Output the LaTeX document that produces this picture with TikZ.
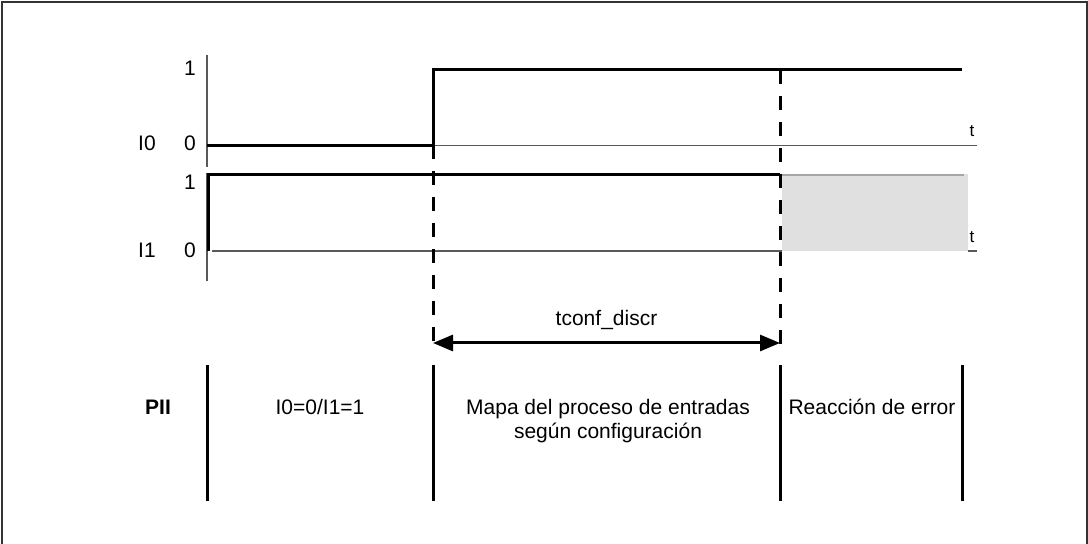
\documentclass[tikz,border=0pt]{standalone}
\usepackage{fontspec}
\setmainfont{Liberation Sans}
\usetikzlibrary{arrows.meta}

\begin{document}
\begin{tikzpicture}[x=0.5pt, y=-0.5pt]

  \fontsize{10.5}{12}\selectfont

  \newcommand\tZ{207};
  \newcommand\tA{433};
  \newcommand\tB{780};
  \newcommand\tE{962};

  \tikzset{
    axis/.style={black!65, line width=0.6pt},
    sig/.style={line width=1.5pt},
    mark line/.style={line width=1.5pt, dash pattern=on 7pt off 6pt},
    lbl/.style={inner sep=0pt},
    tlbl/.style={inner sep=0pt, font=\fontsize{8.5}{9}\selectfont},
    txt/.style={inner sep=0pt, font=\fontsize{10.5}{12}\selectfont}
  }

  \useasboundingbox (0,0) rectangle (1088,544);
  \draw[black!80, line width=1pt] (2,548) -- (2,2) -- (1087,2) -- (1087,548);

  %% grey error zone
  \fill[black!12] (782,174) rectangle (968,251.5);
  \draw[black!35, line width=0.6pt] (782,175) -- (964,175);

  %% axes
  \draw[axis] (\tZ,55) -- (\tZ,167);
  \draw[axis] (\tZ,145.5) -- (977,145.5);
  \draw[axis] (\tZ,173) -- (\tZ,281);
  \draw[axis] (212,251) -- (782,251);
  \draw[axis] (968,251) -- (977,251);

  \node[lbl] (one0) at (190,68) {1};
  \node[lbl] (zero0) at (190,143) {0};
  \node[lbl] (nameI0) at (147,143) {I0};
  \node[lbl] (one1) at (190,182) {1};
  \node[lbl] (zero1) at (190,250) {0};
  \node[lbl] (nameI1) at (147,250) {I1};
  \node[tlbl] (t0) at (972,131) {t};
  \node[tlbl] (t1) at (972,237) {t};

  %% signals
  \draw[sig] (\tZ,145.5) -- (\tA,145.5) -- (\tA,70) -- (\tE,70); %% I0
  \draw[sig] (208,251) -- (208,174.5) -- (\tB,174.5); %% I1

  %% time marks
  \coordinate (da) at (\tA,343);
  \coordinate (db) at (\tB,343);
  \draw[mark line] (\tA,145.5) -- (\tA,349);
  \draw[mark line] (\tB,70) -- (\tB,349);
  \draw[sig, {Triangle[length=10pt, width=8pt]}-{Triangle[length=10pt, width=8pt]}]
    (da) -- node[txt, above=6pt] (tconf) {tconf\_discr} (db);

  %% PII
  \foreach \x in {\tZ, \tA, \tB, \tE}
    \draw[sig] (\x,365) -- (\x,501);

  \node[txt, font=\fontsize{10.5}{12}\selectfont\bfseries] (pii) at (158,407) {PII};
  \node[txt] (phA) at (320,407) {I0=0/I1=1};
  \node[txt, align=center, anchor=north] (phB) at (608,399) {Mapa del proceso de entradas\\según configuración};
  \node[txt] (phC) at (872,407) {Reacción de error};

\end{tikzpicture}
\end{document}
